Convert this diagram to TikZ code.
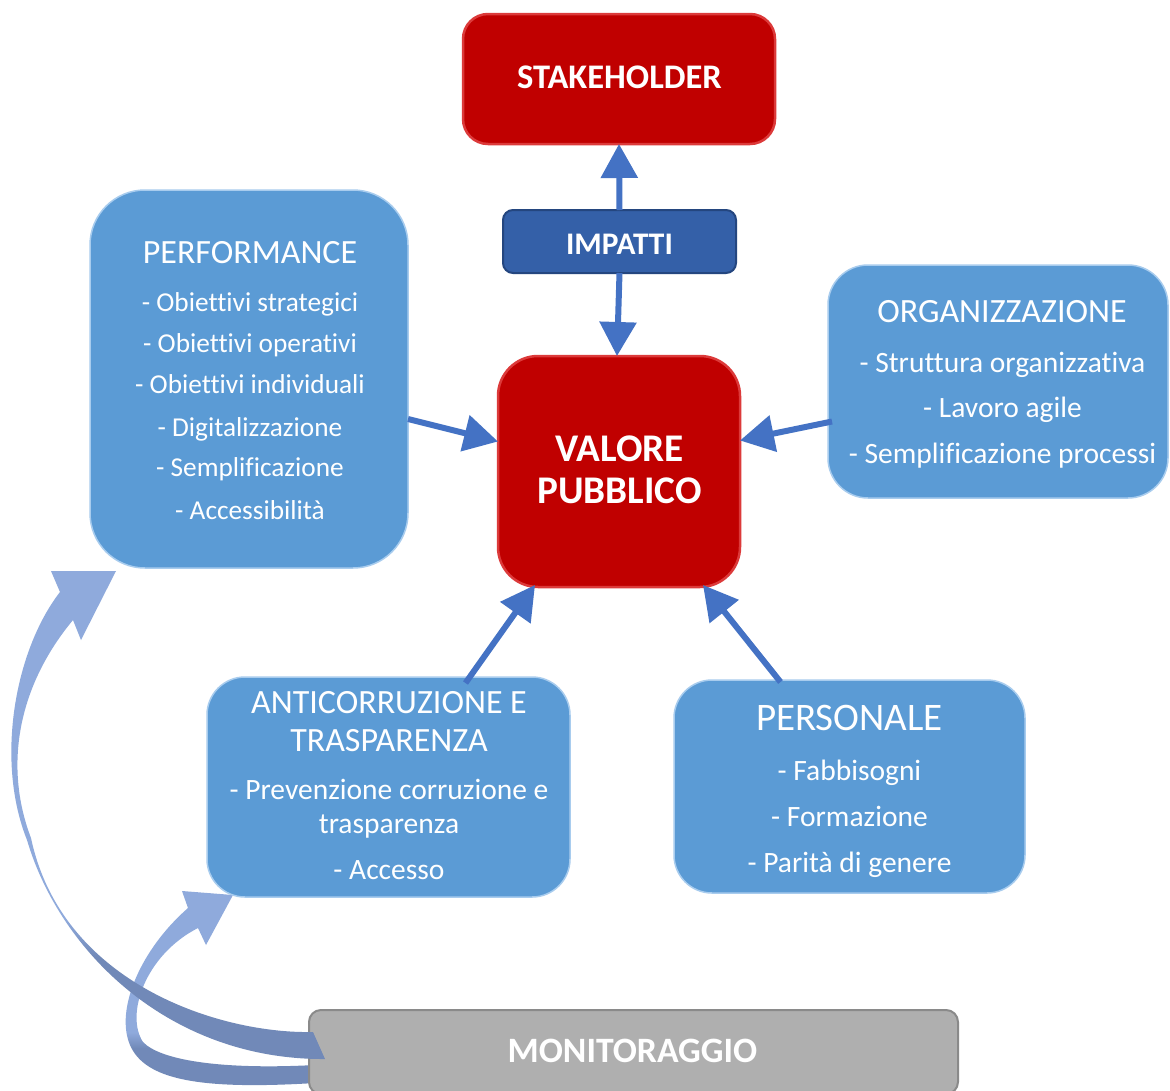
\documentclass[tikz,border=0pt]{standalone}
\usepackage{fontspec}
\setmainfont{Carlito}[Ligatures=NoCommon]
\usetikzlibrary{arrows.meta,calc}
\definecolor{redbox}{HTML}{C00000}
\definecolor{redrim}{HTML}{DC3A3A}
\definecolor{bluebox}{HTML}{5B9BD5}
\definecolor{bluerim}{HTML}{A8CCEE}
\definecolor{impfill}{HTML}{3460A8}
\definecolor{imprim}{HTML}{24467F}
\definecolor{grayfill}{HTML}{AFAFAF}
\definecolor{grayrim}{HTML}{8A8A8A}
\definecolor{connblue}{HTML}{4472C4}
\definecolor{arrLight}{HTML}{8FAADC}
\definecolor{arrDark}{HTML}{7189B8}
\pgfdeclareverticalshading{curvedshade}{100bp}{color(0bp)=(arrDark); color(35.5bp)=(arrDark); color(39.5bp)=(arrLight); color(100bp)=(arrLight)}
\begin{document}
\begin{tikzpicture}[x=1pt,y=-1pt,
  boxbase/.style={rectangle, inner sep=0pt, outer sep=0pt},
  redbx/.style={boxbase, fill=redbox, draw=redrim, line width=2.5pt},
  bluebx/.style={boxbase, fill=bluebox, draw=bluerim, line width=1.5pt},
  impbx/.style={boxbase, fill=impfill, draw=imprim, line width=2pt, rounded corners=10pt},
  graybx/.style={boxbase, fill=grayfill, draw=grayrim, line width=2pt, rounded corners=12pt},
  tw/.style={text=white, anchor=base, inner sep=0pt},
  ttl/.style={tw, font=\fontsize{34}{38}\selectfont},
  itm/.style={tw, font=\fontsize{29.5}{32}\selectfont},
  itmp/.style={tw, font=\fontsize{27.3}{30}\selectfont},
  bld/.style={tw, font=\bfseries\fontsize{34.5}{38}\selectfont},
  conn/.style={draw=connblue, line width=6pt, -{Triangle[length=34pt,width=36pt]}}
]
\useasboundingbox (0,0) rectangle (1170,1090);
\fill[white] (0,0) rectangle (1170,1090);

% small curved arrow (towards ANTICORRUZIONE)
\path[shading=curvedshade] (188,908) .. controls (140,950) and (115,1010) .. (130,1045)
  .. controls (145,1080) and (200,1090) .. (315,1083) -- (315,1065)
  .. controls (220,1070) and (160,1060) .. (143,1042)
  .. controls (125,1015) and (145,955) .. (198,928)
  -- (206,945) -- (233,895) -- (182,891) -- cycle;

% MONITORAGGIO
\node[graybx, minimum width=649pt, minimum height=84pt] (mon) at (633.5,1052) {};
\node[bld, font=\bfseries\fontsize{35.7}{38}\selectfont] (monT) at (632.5,1062) {MONITORAGGIO};

% big curved arrow (towards PERFORMANCE)
\path[shading=curvedshade] (60,592) .. controls (15,650) and (-5,760) .. (27,840)
  .. controls (60,952) and (170,1060) .. (325,1059) -- (313,1032)
  .. controls (220,1034) and (62,984) .. (31,838)
  .. controls (5,770) and (15,690) .. (73,620)
  -- (81,640) -- (116,571) -- (51,571) -- cycle;

% boxes
\node[redbx, rounded corners=25pt, minimum width=312pt, minimum height=130pt] (stake) at (619,79) {};
\node[bld] (stakeT) at (619.5,88) {STAKEHOLDER};

\node[impbx, minimum width=233pt, minimum height=63pt] (imp) at (619.5,241.5) {};
\node[bld, font=\bfseries\fontsize{31.4}{34}\selectfont] (impT) at (619.5,254.5) {IMPATTI};

\node[redbx, rounded corners=40pt, minimum width=242pt, minimum height=231pt] (val) at (619,471.5) {};
\node[bld, font=\bfseries\fontsize{39.2}{42}\selectfont] (valT1) at (619.5,461.6) {VALORE};
\node[bld, font=\bfseries\fontsize{39.2}{42}\selectfont] (valT2) at (619.5,503.6) {PUBBLICO};

\node[bluebx, rounded corners=55pt, minimum width=318pt, minimum height=378pt] (perf) at (249,379) {};
\node[ttl] (perfT) at (250,263) {PERFORMANCE};
\node[itmp] (perf1) at (250,311) {- Obiettivi strategici};
\node[itmp] (perf2) at (250,352) {- Obiettivi operativi};
\node[itmp] (perf3) at (250,393) {- Obiettivi individuali};
\node[itmp] (perf4) at (250,436) {- Digitalizzazione};
\node[itmp] (perf5) at (250,476) {- Semplificazione};
\node[itmp] (perf6) at (250,519) {- Accessibilità};

\node[bluebx, rounded corners=40pt, minimum width=340pt, minimum height=233pt] (org) at (998,381.5) {};
\node[ttl] (orgT) at (1002,322) {ORGANIZZAZIONE};
\node[itm] (org1) at (1002.5,372.5) {- Struttura organizzativa};
\node[itm] (org2) at (1002.5,417.5) {- Lavoro agile};
\node[itm] (org3) at (1002.5,463.5) {- Semplificazione processi};

\node[bluebx, rounded corners=38pt, minimum width=363pt, minimum height=220pt] (anti) at (388.5,787) {};
\node[ttl] (antiT1) at (389,713) {ANTICORRUZIONE E};
\node[ttl] (antiT2) at (389,751) {TRASPARENZA};
\node[itm] (anti1) at (389,799.5) {- Prevenzione corruzione e};
\node[itm] (anti2) at (389,833.5) {trasparenza};
\node[itm] (anti3) at (389,879.5) {- Accesso};

\node[bluebx, rounded corners=38pt, minimum width=351pt, minimum height=213pt] (pers) at (849.5,786.5) {};
\node[ttl, font=\fontsize{39}{42}\selectfont] (persT) at (849.5,730.6) {PERSONALE};
\node[itm] (pers1) at (849.5,780.5) {- Fabbisogni};
\node[itm] (pers2) at (849.5,826.5) {- Formazione};
\node[itm] (pers3) at (849.5,872.5) {- Parità di genere};

% connectors
\draw[conn] (imp.north) -- (stake.south);
\draw[conn] (imp.south) -- ($(val.north)+(-2,0)$);
\draw[conn] ($(perf.east)+(0,40)$) -- ($(val.west)+(0,-30)$);
\draw[conn] ($(org.west)+(4,40)$) -- ($(val.east)+(0,-31)$);
\draw[conn] ($(anti.north)+(77,6)$) -- ($(val.south)+(-84,-2)$);
\draw[conn] ($(pers.north)+(-69,2)$) -- ($(val.south)+(84,-2)$);
\end{tikzpicture}
\end{document}
